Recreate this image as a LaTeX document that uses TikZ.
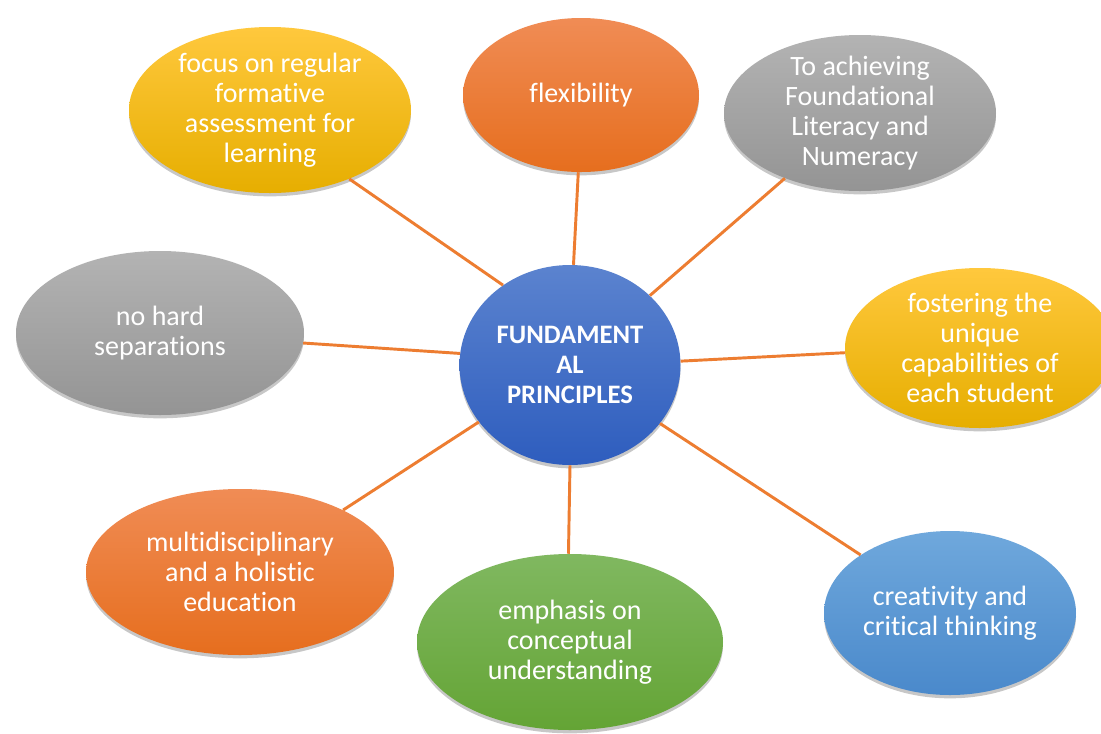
\documentclass[tikz,border=0pt]{standalone}
\usepackage{fontspec}
\setmainfont{Carlito}[Ligatures={NoCommon}]
\usetikzlibrary{shapes.geometric,shadows}
\definecolor{yelT}{HTML}{FFC83D}\definecolor{yelB}{HTML}{E6AE00}
\definecolor{oraT}{HTML}{F08C55}\definecolor{oraB}{HTML}{E66E1E}
\definecolor{gryT}{HTML}{B3B3B3}\definecolor{gryB}{HTML}{949494}
\definecolor{bluT}{HTML}{5B83CF}\definecolor{bluB}{HTML}{2E5DBE}
\definecolor{lbuT}{HTML}{6FA8DC}\definecolor{lbuB}{HTML}{4A89CB}
\definecolor{grnT}{HTML}{80B860}\definecolor{grnB}{HTML}{64A435}
\definecolor{linkorange}{HTML}{ED7D31}
\begin{document}
\begin{tikzpicture}[x=0.75pt,y=-0.75pt,
  bub/.style={ellipse, inner sep=-4pt, align=center, text=white,
    font=\fontsize{21}{22.5}\selectfont,
    drop shadow={shadow xshift=0pt,shadow yshift=-2.5pt,opacity=0.22,fill=black}},
  yel/.style={bub, top color=yelT, bottom color=yelB},
  ora/.style={bub, top color=oraT, bottom color=oraB},
  gry/.style={bub, top color=gryT, bottom color=gryB},
  blu/.style={bub, top color=bluT, bottom color=bluB},
  lbu/.style={bub, top color=lbuT, bottom color=lbuB},
  grn/.style={bub, top color=grnT, bottom color=grnB},
  link/.style={draw=linkorange, line width=2.2pt}
]
\useasboundingbox (0,0) rectangle (1101,733);
\fill[white] (0,0) rectangle (1101,733);

\node[blu, minimum width=165.75pt, minimum height=150pt, font=\fontsize{20}{22.5}\selectfont\bfseries] (c) at (570,365) {FUNDAMENT\\AL\\PRINCIPLES};

\node[yel, minimum width=211.5pt, minimum height=124.5pt] (e1) at (270,110) {focus on regular\\formative\\assessment for\\learning};
\node[ora, minimum width=177pt, minimum height=115.5pt] (e2) at (581,95) {flexibility};
\node[gry, minimum width=204pt, minimum height=117pt] (e3) at (860,113) {To achieving\\Foundational\\Literacy and\\Numeracy};
\node[yel, minimum width=202.5pt, minimum height=120pt] (e4) at (980,348) {fostering the\\unique\\capabilities of\\each student};
\node[lbu, minimum width=189pt, minimum height=123pt] (e5) at (950,613) {creativity and\\critical thinking};
\node[grn, minimum width=229.5pt, minimum height=132pt] (e6) at (570,642) {emphasis on\\conceptual\\understanding};
\node[ora, minimum width=231pt, minimum height=124.5pt] (e7) at (240,572) {multidisciplinary\\and a holistic\\education};
\node[gry, minimum width=216pt, minimum height=123pt] (e8) at (160,333) {no hard\\separations};

\draw[link] (c.130) -- (e1.-41);
\draw[link] (c.88) -- (e2.-92);
\draw[link] (c.41) -- (e3.-139);
\draw[link] (c.2.6) -- (e4.-178.3);
\draw[link] (c.-33.7) -- (e5.147.2);
\draw[link] (c.-90) -- (e6.91.3);
\draw[link] (c.-148.2) -- (e7.31.8);
\draw[link] (c.174.8) -- (e8.-4);
\end{tikzpicture}
\end{document}
